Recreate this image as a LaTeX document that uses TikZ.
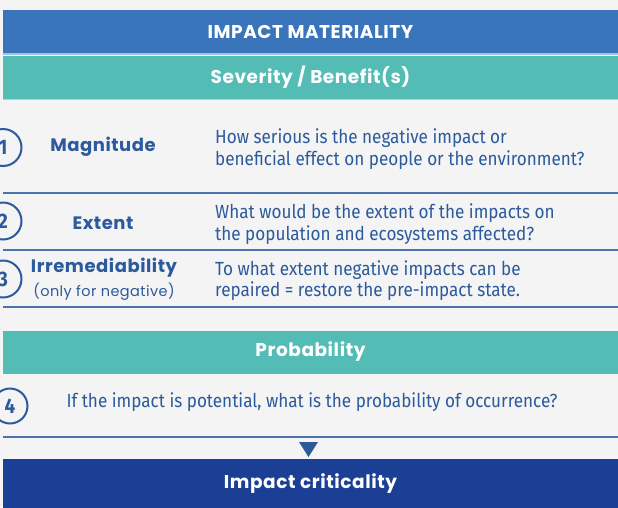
\documentclass[tikz,border=0pt]{standalone}
\usepackage{fontspec}
\setmainfont{Fira Sans}[FakeStretch=0.9]
\newfontfamily\headfont{Poppins}[LetterSpace=3]
\usetikzlibrary{positioning}

\definecolor{matblue}{HTML}{3A74BA}
\definecolor{matteal}{HTML}{52BCB5}
\definecolor{textblue}{HTML}{2C5A9C}
\definecolor{ruleblue}{HTML}{4C72AE}
\definecolor{critblue}{HTML}{1A3F95}
\definecolor{pagebg}{HTML}{F4F4F4}

\tikzset{
  bar/.style={minimum width=615pt, minimum height=43pt, inner sep=0pt,
    text=white, font=\headfont\bfseries\fontsize{18.5}{20}\selectfont},
  num/.style={circle, draw=textblue, line width=2pt, fill=pagebg,
    minimum size=37pt, inner sep=0pt, text=textblue,
    font=\bfseries\fontsize{21}{22}\selectfont},
  crit/.style={text=textblue, font=\headfont\bfseries\fontsize{18}{20}\selectfont},
  desc/.style={anchor=west, align=left, text=textblue, inner sep=0pt,
    font=\fontsize{19}{21.5}\selectfont},
  rule/.style={draw=ruleblue, line width=1.5pt},
}

\begin{document}
\begin{tikzpicture}[x=1pt, y=-1pt]
  \useasboundingbox[fill=pagebg] (0,0) rectangle (618,507);

  % headers
  \node[bar, fill=matblue] (title) at (310.5,31.5) {IMPACT MATERIALITY};
  \draw[matblue!45, line width=1.5pt] (3,54) -- (618,54);
  \node[bar, fill=matteal] (severity) at (310.5,77.5) {Severity / Benefit(s)};
  \draw[matteal!55, line width=1pt] (3,99.5) -- (618,99.5);

  % severity criteria
  \node[num] (n1) at (3,147.5) {1};
  \node[crit] (magnitude) at (103,147) {Magnitude};
  \node[desc] (d1) at (215,149) {How serious is the negative impact or\\beneficial effect on people or the environment?};
  \draw[rule] (3,193) -- (618,193);

  \node[num] (n2) at (3,221) {2};
  \node[crit] (extent) at (103,223) {Extent};
  \node[desc] (d2) at (215,224) {What would be the extent of the impacts on\\the population and ecosystems affected?};
  \draw[rule] (3,250) -- (618,250);

  \node[num] (n3) at (3,279) {3};
  \node[crit] (irrem) at (104,268) {Irremediability};
  \node[text=textblue, font=\headfont\fontsize{14.5}{16}\selectfont, below=-2pt of irrem] (negonly) {(only for negative)};
  \node[desc] (d3) at (215,280.5) {To what extent negative impacts can be\\repaired = restore the pre-impact state.};
  \draw[rule] (3,307) -- (618,307);

  % probability
  \node[bar, fill=matteal] (proba) at (310.5,352) {Probability};
  \node[num, minimum size=35pt] (n4) at (10,406) {4};
  \node[desc, anchor=center] (d4) at (312,402) {If the impact is potential, what is the probability of occurrence?};
  \draw[rule] (3,437) -- (618,437);

  % result
  \fill[textblue] (299,442) -- (318,442) -- (308.5,457) -- cycle;
  \node[bar, fill=critblue, minimum height=50pt] (critic) at (310.5,484) {Impact criticality};
\end{tikzpicture}
\end{document}
